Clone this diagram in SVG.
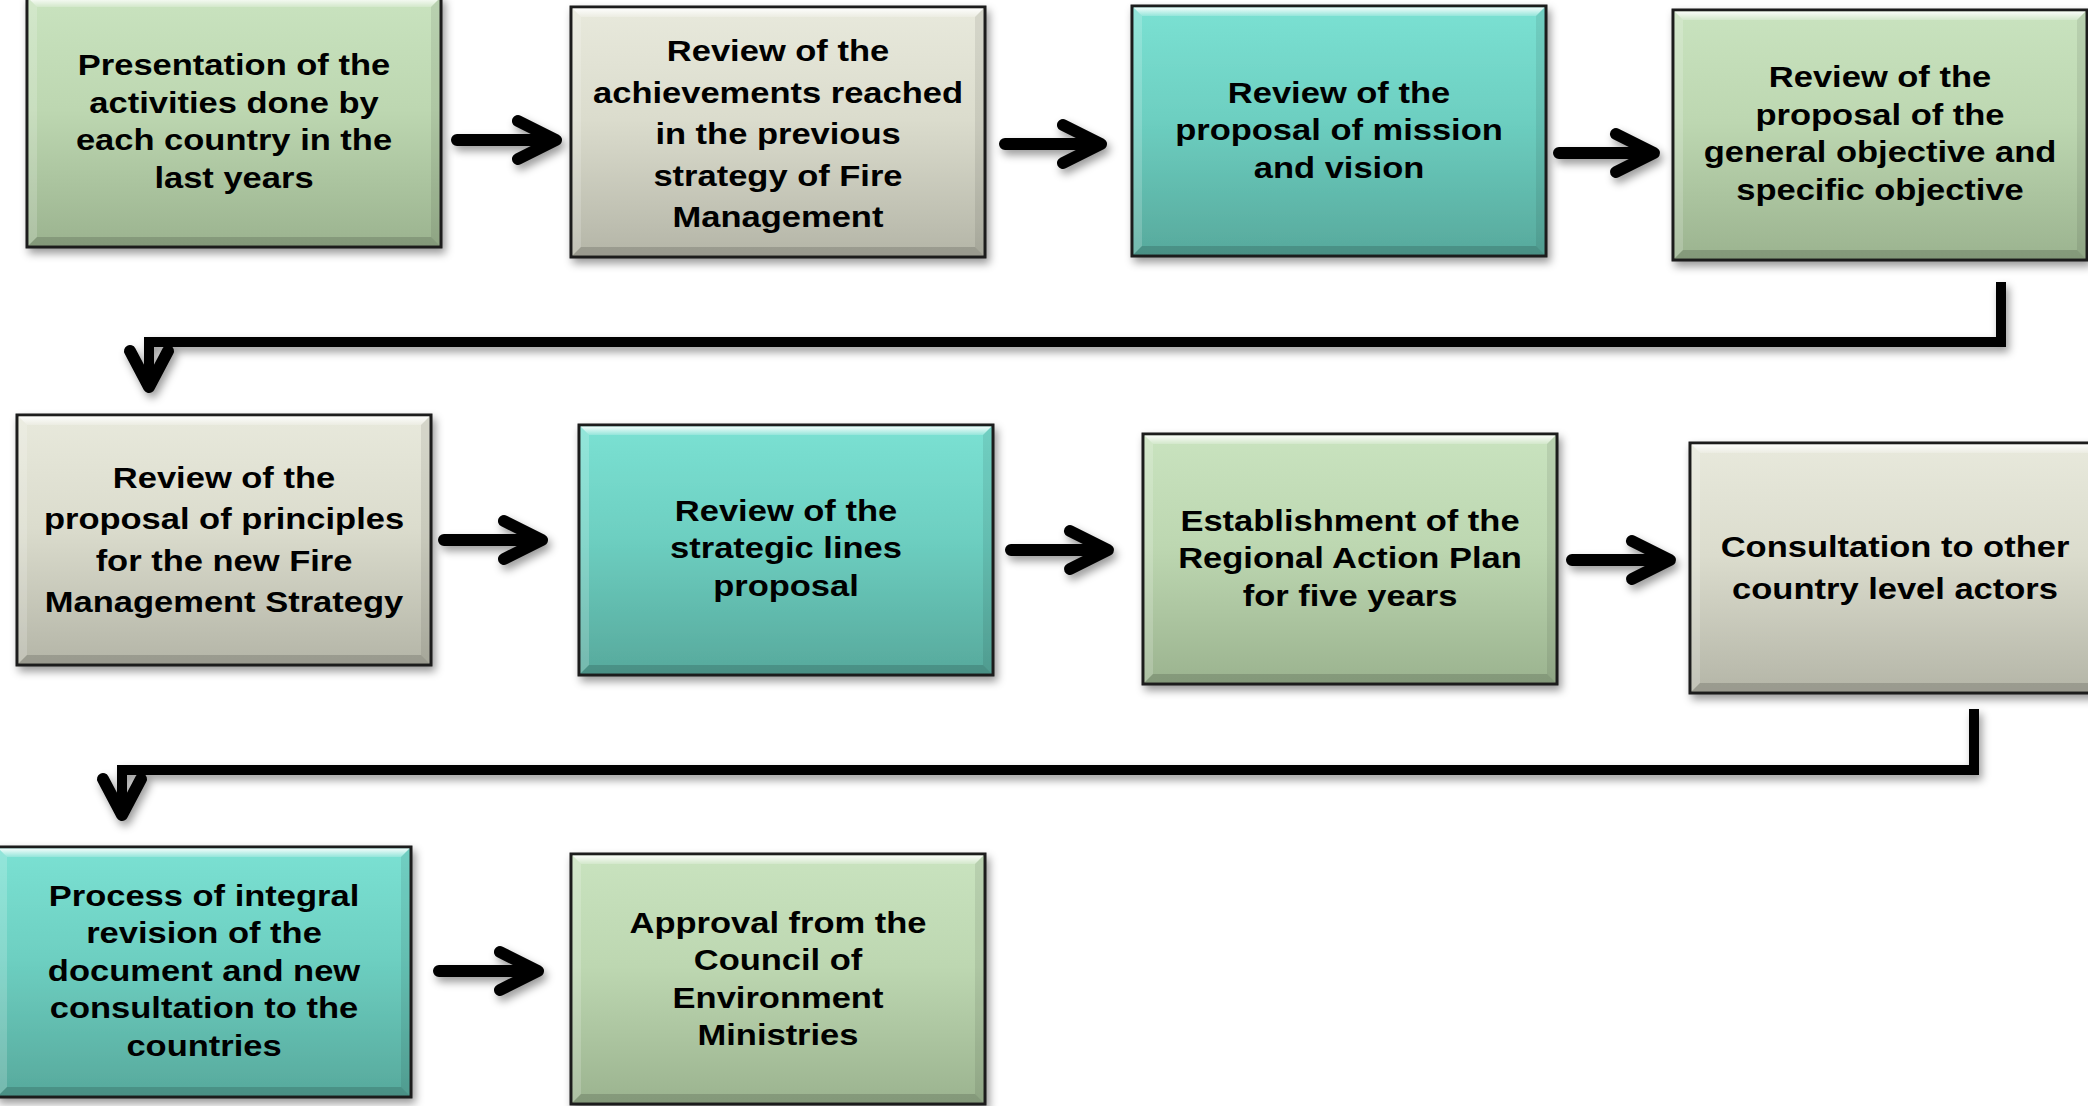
<svg xmlns="http://www.w3.org/2000/svg" xmlns:xlink="http://www.w3.org/1999/xlink" width="2088" height="1106" viewBox="0 0 2088 1106">
<style>
.box{stroke:#1c1c1c;stroke-width:3}
.green{fill:url(#gGreen)}
.gray{fill:url(#gGray)}
.teal{fill:url(#gTeal)}
.lbl{font-family:"Liberation Sans",Arial,sans-serif;font-weight:bold;font-size:30px;fill:#000;text-anchor:middle}
.ln{fill:none;stroke:#000;stroke-width:12;stroke-linecap:round;stroke-linejoin:round}
.el{fill:none;stroke:#000;stroke-width:10;stroke-linejoin:miter;stroke-linecap:butt}
</style>
<defs>
<linearGradient id="gGreen" x1="0" y1="0" x2="0" y2="1">
<stop offset="0" stop-color="#c9e3bf"/><stop offset="0.45" stop-color="#bdd7b1"/><stop offset="1" stop-color="#9bb38f"/>
</linearGradient>
<linearGradient id="gGray" x1="0" y1="0" x2="0" y2="1">
<stop offset="0" stop-color="#e8e9dc"/><stop offset="0.45" stop-color="#dbdccd"/><stop offset="1" stop-color="#b4b5a7"/>
</linearGradient>
<linearGradient id="gTeal" x1="0" y1="0" x2="0" y2="1">
<stop offset="0" stop-color="#7be1d3"/><stop offset="0.45" stop-color="#6dcfc1"/><stop offset="1" stop-color="#57a99c"/>
</linearGradient>
<linearGradient id="hiTop" x1="0" y1="0" x2="0" y2="1">
<stop offset="0" stop-color="#fff" stop-opacity="0.9"/><stop offset="1" stop-color="#fff" stop-opacity="0.2"/>
</linearGradient>
<filter id="sh" x="-10%" y="-10%" width="130%" height="130%">
<feDropShadow dx="3" dy="5" stdDeviation="4" flood-color="#000" flood-opacity="0.4"/>
</filter>
<g id="bevel">
<polygon points="1.5,1.5 412.5,1.5 404,10 10,10" fill="url(#hiTop)"/>
<polygon points="1.5,1.5 10,10 10,240 1.5,248.5" fill="#fff" opacity="0.18"/>
<polygon points="412.5,1.5 404,10 404,240 412.5,248.5" fill="#000" opacity="0.08"/>
<polygon points="1.5,248.5 10,240 404,240 412.5,248.5" fill="#000" opacity="0.15"/>
</g>
</defs>

<g id="connectors" filter="url(#sh)">
<path class="ln" d="M457,140 H554 M518,121 L556,140 L518,159"/>
<path class="ln" d="M1005,144 H1099 M1063,125 L1101,144 L1063,163"/>
<path class="ln" d="M1559,153 H1652 M1616,134 L1654,153 L1616,172"/>
<path class="ln" d="M444,540 H540 M504,521 L542,540 L504,559"/>
<path class="ln" d="M1011,550 H1106 M1070,531 L1108,550 L1070,569"/>
<path class="ln" d="M1572,560 H1668 M1632,541 L1670,560 L1632,579"/>
<path class="ln" d="M439,971 H536 M500,952 L538,971 L500,990"/>
<path class="el" d="M2001,282 V342 H149 V386"/>
<path class="ln" d="M130,351 L149,387 L168,351"/>
<path class="el" d="M1974,709 V770 H122 V815"/>
<path class="ln" d="M103,779 L122,815 L141,779"/>
</g>

<g id="n1" transform="translate(27,-3)">
<rect class="box green" width="414" height="250" filter="url(#sh)"/><use xlink:href="#bevel"/>
<text class="lbl" transform="translate(207 0) scale(1.15 1)"><tspan x="0" y="78.5">Presentation of the</tspan><tspan x="0" y="116">activities done by</tspan><tspan x="0" y="153.5">each country in the</tspan><tspan x="0" y="191">last years</tspan></text>
</g>
<g id="n2" transform="translate(571,7)">
<rect class="box gray" width="414" height="250" filter="url(#sh)"/><use xlink:href="#bevel"/>
<text class="lbl" transform="translate(207 0) scale(1.15 1)"><tspan x="0" y="54.5">Review of the</tspan><tspan x="0" y="96">achievements reached</tspan><tspan x="0" y="137.5">in the previous</tspan><tspan x="0" y="179">strategy of Fire</tspan><tspan x="0" y="220.5">Management</tspan></text>
</g>
<g id="n3" transform="translate(1132,6)">
<rect class="box teal" width="414" height="250" filter="url(#sh)"/><use xlink:href="#bevel"/>
<text class="lbl" transform="translate(207 0) scale(1.15 1)"><tspan x="0" y="97">Review of the</tspan><tspan x="0" y="134.5">proposal of mission</tspan><tspan x="0" y="172">and vision</tspan></text>
</g>
<g id="n4" transform="translate(1673,10)">
<rect class="box green" width="414" height="250" filter="url(#sh)"/><use xlink:href="#bevel"/>
<text class="lbl" transform="translate(207 0) scale(1.15 1)"><tspan x="0" y="77.5">Review of the</tspan><tspan x="0" y="115">proposal of the</tspan><tspan x="0" y="152.5">general objective and</tspan><tspan x="0" y="190">specific objective</tspan></text>
</g>
<g id="n5" transform="translate(17,415)">
<rect class="box gray" width="414" height="250" filter="url(#sh)"/><use xlink:href="#bevel"/>
<text class="lbl" transform="translate(207 0) scale(1.15 1)"><tspan x="0" y="73">Review of the</tspan><tspan x="0" y="114.5">proposal of principles</tspan><tspan x="0" y="156">for the new Fire</tspan><tspan x="0" y="197.5">Management Strategy</tspan></text>
</g>
<g id="n6" transform="translate(579,425)">
<rect class="box teal" width="414" height="250" filter="url(#sh)"/><use xlink:href="#bevel"/>
<text class="lbl" transform="translate(207 0) scale(1.15 1)"><tspan x="0" y="96">Review of the</tspan><tspan x="0" y="133.5">strategic lines</tspan><tspan x="0" y="171">proposal</tspan></text>
</g>
<g id="n7" transform="translate(1143,434)">
<rect class="box green" width="414" height="250" filter="url(#sh)"/><use xlink:href="#bevel"/>
<text class="lbl" transform="translate(207 0) scale(1.15 1)"><tspan x="0" y="97">Establishment of the</tspan><tspan x="0" y="134.5">Regional Action Plan</tspan><tspan x="0" y="172">for five years</tspan></text>
</g>
<g id="n8" transform="translate(1690,443)">
<rect class="box gray" width="414" height="250" filter="url(#sh)"/><use xlink:href="#bevel"/>
<text class="lbl" transform="translate(205 0) scale(1.15 1)"><tspan x="0" y="114.5">Consultation to other</tspan><tspan x="0" y="156">country level actors</tspan></text>
</g>
<g id="n9" transform="translate(-3,847)">
<rect class="box teal" width="414" height="250" filter="url(#sh)"/><use xlink:href="#bevel"/>
<text class="lbl" transform="translate(207 0) scale(1.15 1)"><tspan x="0" y="59">Process of integral</tspan><tspan x="0" y="96.5">revision of the</tspan><tspan x="0" y="134">document and new</tspan><tspan x="0" y="171.5">consultation to the</tspan><tspan x="0" y="209">countries</tspan></text>
</g>
<g id="n10" transform="translate(571,854)">
<rect class="box green" width="414" height="250" filter="url(#sh)"/><use xlink:href="#bevel"/>
<text class="lbl" transform="translate(207 0) scale(1.15 1)"><tspan x="0" y="79">Approval from the</tspan><tspan x="0" y="116.5">Council of</tspan><tspan x="0" y="154">Environment</tspan><tspan x="0" y="191.5">Ministries</tspan></text>
</g>
</svg>
